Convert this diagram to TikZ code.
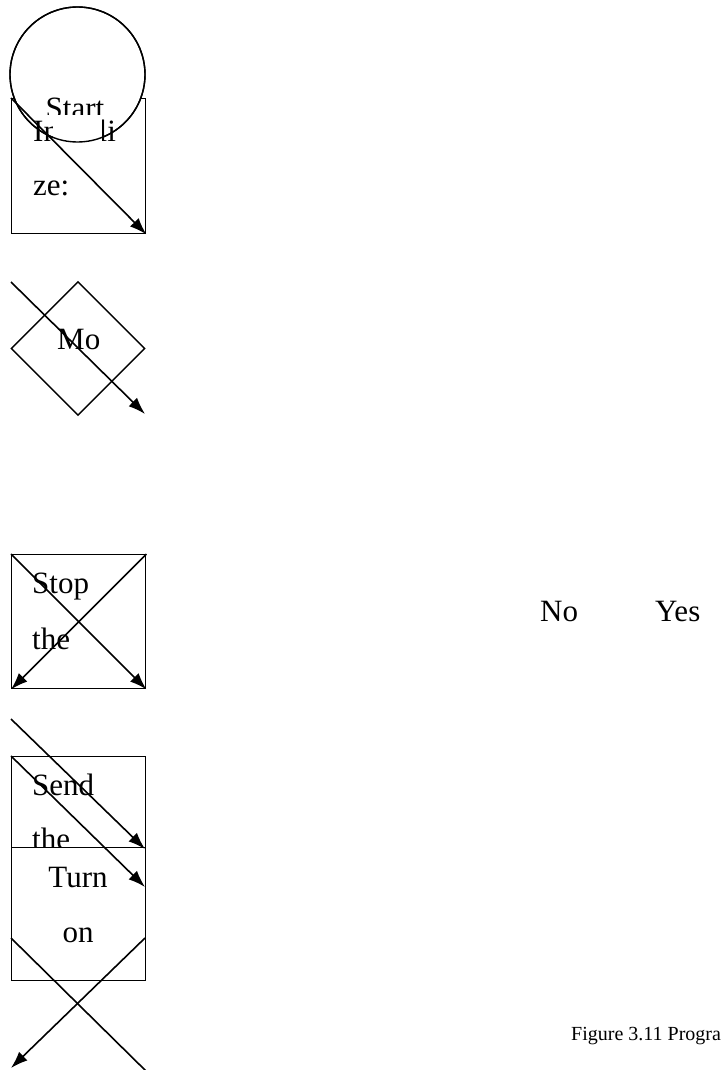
\documentclass[tikz,border=0pt]{standalone}
\usepackage{fontspec}
\setmainfont{Liberation Serif}
\usetikzlibrary{shapes.geometric,arrows.meta}
\begin{document}
\begin{tikzpicture}[x=1pt,y=-1pt,
  shape box/.style={draw,line width=1.4pt,rectangle,inner sep=0pt,anchor=north west},
  flowtext/.style={inner sep=0pt,anchor=base west,font=\fontsize{31}{37}\selectfont},
  captext/.style={inner sep=0pt,anchor=base west,font=\fontsize{20}{24}\selectfont},
  link/.style={line width=1.6pt,-{Latex[length=17pt,width=12pt]}},
  plainlink/.style={line width=1.6pt}]
\useasboundingbox[fill=white] (0,0) rectangle (723,1070);

% Initialise box behind the start terminal
\node[shape box,minimum width=134pt,minimum height=135pt] (init) at (11,98) {};
\node[draw,circle,fill=white,line width=1.4pt,minimum size=135pt,inner sep=0pt] (start) at (77.5,74.5) {};
\node[flowtext] (initA) at (33,141) {Initiali};
\fill[white] (53,112) rectangle (102,144);
\draw[line width=1.4pt] (start.center) circle[radius=67.5];
\begin{scope}
  \clip (0,0) rectangle (723,115);
  \node[flowtext,anchor=base] (startT) at (75,119) {Start};
\end{scope}
\node[flowtext] (initB) at (33,195) {ze:};
\draw[link] (init.north west) -- (init.south east);

% Motion decision
\node[draw,diamond,line width=1.4pt,minimum width=134pt,minimum height=134pt,inner sep=0pt,aspect=1] (motion) at (78,348.5) {};
\node[flowtext] (motionT) at (57,349) {Mo};
\coordinate (mA) at (11,282);
\coordinate (mB) at (145,414);
\draw[link] (mA) -- (mB);

% Stop box
\node[shape box,minimum width=134pt,minimum height=134pt] (stop) at (11,554) {};
\node[flowtext] (stopA) at (32,593) {Stop};
\node[flowtext] (stopB) at (32,649) {the};
\draw[link] (stop.north west) -- (stop.south east);
\draw[link] (stop.north east) -- (stop.south west);

% Branch labels
\node[flowtext] (no) at (540,621) {No};
\node[flowtext] (yes) at (655,621) {Yes};

% Send box and Turn-on box
\node[shape box,minimum width=134pt,minimum height=91pt] (send) at (11,756) {};
\node[flowtext] (sendA) at (32,795) {Send};
\node[flowtext] (sendB) at (32,849) {the};
\node[shape box,fill=white,minimum width=134pt,minimum height=133pt] (turn) at (11,847) {};
\node[flowtext,anchor=base] (turnA) at (78,887) {Turn};
\node[flowtext,anchor=base] (turnB) at (78,942) {on};
\coordinate (sA) at (11,719);
\coordinate (sB) at (145,849);
\draw[link] (sA) -- (sB);
\draw[link] (send.north west) -- (145,887);
\coordinate (tA) at (11,938);
\coordinate (tB) at (147,1072);
\coordinate (tC) at (145,938);
\coordinate (tD) at (11,1068);
\draw[plainlink] (tA) -- (tB);
\draw[link] (tC) -- (tD);

% Caption
\node[captext] (cap) at (571,1040) {Figure 3.11 Progra};
\end{tikzpicture}
\end{document}
